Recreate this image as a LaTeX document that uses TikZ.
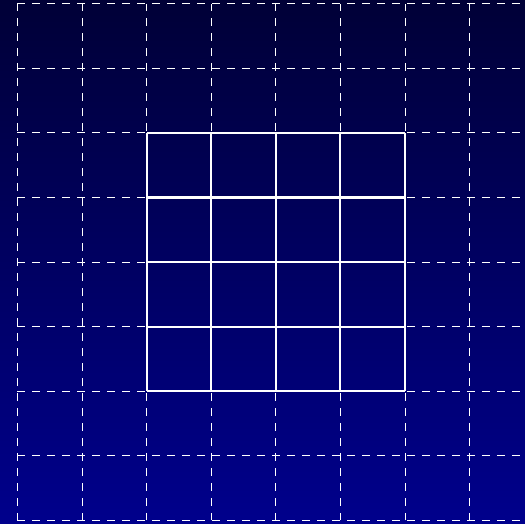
\documentclass[tikz,border=0pt]{standalone}
\definecolor{bgtop}{RGB}{0,0,55}
\definecolor{bgbot}{RGB}{0,0,140}
\tikzset{
  dashgrid/.style={white, line width=0.45pt, dash pattern=on 3.5pt off 3.1pt},
  solidgrid/.style={white, line width=0.9pt},
}
\begin{document}
\begin{tikzpicture}
\useasboundingbox (0,0) rectangle (8.127,8.111);
\clip (0,0) rectangle (8.127,8.111);
\shade[top color=bgtop, bottom color=bgbot] (0,0) rectangle (8.127,8.111);
\begin{scope}[shift={(0.27,0.054)}]
  \foreach \i in {0,...,7} \draw[dashgrid] (\i,0) -- (\i,8);
  \foreach \j in {0,...,8} \draw[dashgrid] (0,\j) -- (8.2,\j);
  \foreach \i in {2,...,6} \draw[solidgrid] (\i,2) -- (\i,6);
  \foreach \j in {2,...,6} \draw[solidgrid] (2,\j) -- (6,\j);
\end{scope}
\end{tikzpicture}
\end{document}
